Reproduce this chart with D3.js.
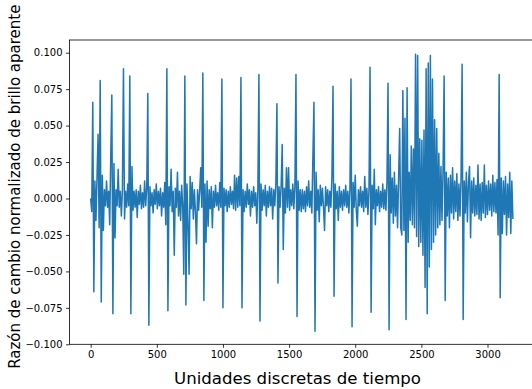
<!DOCTYPE html>
<html>
<head>
<meta charset="utf-8">
<script src="https://cdn.jsdelivr.net/npm/d3@7"></script>
<style>
  body { margin: 0; background: #fff; }
  svg { display: block; font-family: "DejaVu Sans", sans-serif; }
</style>
</head>
<body>
<figure id="chart" style="margin:0"></figure>
<script>
// brightness-change ratio in thousandths, one sample every `step` time units
const step = 8;
const seg0 = [
  0, -9, 66, -64, 12, -15, 15, 44, -20, 81,
  -71, 16, -22, 6, -5, 12, -6, 5, -18, 30,
  71, -79, 24, -27, 6, -5, 20, -6, 5, -12,
  6, 89, -14, 5, -6, 10, -5, 84, -79, 22,
  -8, 5, -6, 6, -13, 5, -4, 9, -7, 4,
  -6, 12, -5, 7, 72, -87, 8, -5, 4, -10,
  6, -4, 10, -7, 5, -5, 7, -12, 4, -6,
  11, -18, 89, -77, 8, -5, 20, -9, 5, -39,
  7, -6, 18, -12, 5, -15, 9, -6, -52, 84,
  -73, 10, -17, -52, 15, -7, 11, -14, 6, -9
];
const seg1 = [
  -31, 6, -8, 5, 21, -6, 86, -70, 10, -30,
  12, -19, 6, -7, 8, -20, 5, -6, 9, -5,
  4, -8, 11, -6, 82, -75, 7, -5, 6, -9,
  5, -6, 8, -4, 5, -7, 16, -8, 14, -6,
  15, -5, 83, -75, 6, -9, 5, -6, 10, -4,
  6, -12, 5, -6, 8, -5, 4, -17, 6, 85,
  -84, 10, -8, 6, -5, 9, -12, 5, -6, 8,
  -5, 7, -14, 6, -5, 11, 65, -58, 8, -6,
  9, 37, -35, 7, -10, 21, -6, 21, -8, 6,
  -5, 10, -7, 9, 85, -81, 12, -8, 6, -9
];
const seg2 = [
  6, -7, 5, -9, 8, -5, 12, -6, 5, -10,
  29, 66, -91, 18, -8, 6, -16, 9, -5, 7,
  -6, -22, 8, -5, 6, -9, 5, -6, 16, 77,
  -67, 10, -7, 5, -15, 8, -6, 5, -8, 6,
  -5, 9, -6, 5, -10, 7, 82, -88, 11, -6,
  16, -8, -19, 6, -5, 8, -6, 5, -9, 15,
  -6, 7, -11, 6, 90, -78, 9, -7, 20, -18,
  6, -5, 8, -9, 5, -6, 10, -7, 6, -8,
  12, 79, -90, 30, -10, 14, -17, 18, -12, 9,
  -20, 15, 48, -20, -25, 74, -22, 55, -83, 76
];
const seg3 = [
  -30, 18, -15, 36, -18, 34, -20, 99, -26, 98,
  -33, 41, -30, 40, -39, 47, -61, 89, -79, 93,
  -47, 98, -35, 82, -30, 54, -25, 48, -20, 31,
  -18, 22, -15, 20, 84, -70, 18, -12, 14, -20,
  16, -10, 21, -14, 12, -9, 17, -15, 10, -12,
  14, 92, -83, 12, -10, 18, -16, 11, 22, -27,
  12, -10, 14, -12, 9, -11, 23, -14, 10, -15,
  11, -10, 23, -13, 9, -11, 12, -8, 10, -12,
  16, -9, 11, -10, 13, -25, 85, -68, 14, -24,
  12, -11, 15, -25, 10, -13, 18, -24, 12, -14
];
const xTicks = [0, 500, 1000, 1500, 2000, 2500, 3000];
const yTicks = [-0.100, -0.075, -0.050, -0.025, 0.000, 0.025, 0.050, 0.075, 0.100];

const data = seg0.concat(seg1, seg2, seg3).map((v, i) => ({ t: i * step, v: v / 1000 }));

const W = 532, H = 389;
const mLeft = 69.5, mRight = 535, mTop = 40, mBottom = 344.3;

const svg = d3.select("figure#chart")
  .append("svg")
  .attr("width", W)
  .attr("height", H);

const x = d3.scaleLinear().domain([-160, 3359]).range([mLeft, mRight]);
const y = d3.scaleLinear().domain([-0.1, 0.1087]).range([mBottom, mTop]);

// series
svg.append("path")
  .datum(data)
  .attr("fill", "none")
  .attr("stroke", "#1f77b4")
  .attr("stroke-width", 1.5)
  .attr("stroke-linejoin", "round")
  .attr("d", d3.line().x(d => x(d.t)).y(d => y(d.v)));

// axes
const xAxis = svg.append("g")
  .attr("transform", "translate(0," + mBottom + ")")
  .call(d3.axisBottom(x).tickValues(xTicks).tickFormat(d3.format("d"))
    .tickSize(3.5).tickPadding(3.5).tickSizeOuter(0));
const yAxis = svg.append("g")
  .attr("transform", "translate(" + mLeft + ",0)")
  .call(d3.axisLeft(y).tickValues(yTicks).tickFormat(d3.format(".3f"))
    .tickSize(3.5).tickPadding(3.5).tickSizeOuter(0));

[xAxis, yAxis].forEach(g => {
  g.select(".domain").remove();
  g.selectAll("line").attr("stroke", "#000").attr("stroke-width", 0.8);
  g.selectAll("text").attr("fill", "#000").style("font-size", "10px")
    .style("font-family", "'DejaVu Sans', sans-serif");
});

// frame
svg.append("rect")
  .attr("x", mLeft).attr("y", mTop)
  .attr("width", mRight - mLeft).attr("height", mBottom - mTop)
  .attr("fill", "none").attr("stroke", "#000").attr("stroke-width", 0.8);

// labels
svg.append("text")
  .attr("x", 297.5).attr("y", 384)
  .attr("text-anchor", "middle")
  .style("font-size", "16.6px")
  .text("Unidades discretas de tiempo");

svg.append("text")
  .attr("transform", "translate(19.5,186.7) rotate(-90)")
  .attr("text-anchor", "middle")
  .style("font-size", "15px")
  .text("Razón de cambio normalizado de brillo aparente");
</script>
</body>
</html>
